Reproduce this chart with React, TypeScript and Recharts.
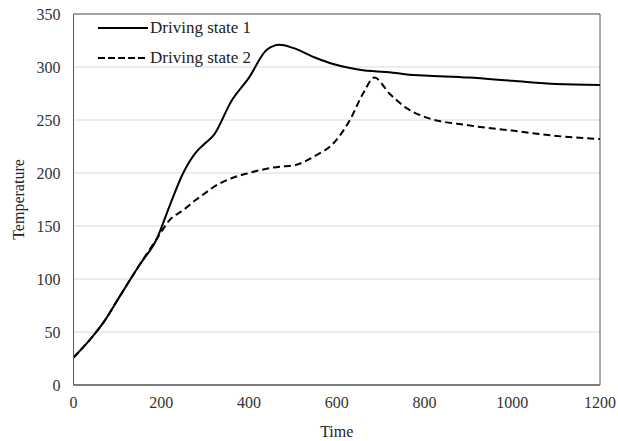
import {
  LineChart,
  Line,
  XAxis,
  YAxis,
  CartesianGrid,
  ReferenceArea,
} from "recharts";

const times = [0, 40, 70, 100, 150, 190, 220, 250, 280, 300, 320, 360, 400, 440, 470, 500, 550, 590, 630, 660, 686, 720, 760, 800, 900, 1000, 1100, 1200];
const state1 = [26, 44, 60, 80, 113, 138, 170, 200, 220, 228, 236, 268, 290, 316, 321, 318, 309, 303, 299, 297, 296, 295, 293, 292, 290, 287, 284, 283];
const state2 = [26, 44, 60, 80, 113, 138, 156, 165, 175, 181, 187, 195, 200, 204, 206, 207, 216, 227, 250, 275, 290, 275, 261, 253, 245, 240, 235, 232];
const xTicks = [0, 200, 400, 600, 800, 1000, 1200];
const yTicks = [0, 50, 100, 150, 200, 250, 300, 350];
const seriesNames = ["Driving state 1", "Driving state 2"];

const data = times.map((t, i) => ({ time: t, s1: state1[i], s2: state2[i] }));

const font = "'Liberation Serif', 'Times New Roman', serif";

// legend drawn as an overlay so the plot keeps its full height
function ChartLegend() {
  return (
    <div
      style={{
        position: "absolute",
        left: 96,
        top: 13,
        fontFamily: font,
        fontSize: 17,
        color: "#222",
      }}
    >
      {seriesNames.map((name, i) => (
        <div key={name} style={{ display: "flex", alignItems: "center", height: 30 }}>
          <svg width={54} height={10}>
            <line
              x1={2}
              x2={52}
              y1={5}
              y2={5}
              stroke="#000"
              strokeWidth={2}
              strokeDasharray={i === 1 ? "7 3" : undefined}
            />
          </svg>
          <span>{name}</span>
        </div>
      ))}
    </div>
  );
}

export default function App() {
  return (
    <div style={{ position: "absolute", left: 0, top: 0, background: "#fff" }}>
      <LineChart
        width={618}
        height={441}
        data={data}
        margin={{ top: 14, right: 18, left: 0, bottom: 0 }}
        style={{ fontFamily: font }}
      >
        <CartesianGrid vertical={false} stroke="#d9d9d9" />
        <XAxis
          dataKey="time"
          type="number"
          domain={[0, 1200]}
          ticks={xTicks}
          height={56}
          tickSize={0}
          tickMargin={12}
          axisLine={{ stroke: "#595959" }}
          tick={{ fill: "#333", fontSize: 16 }}
          label={{ value: "Time", position: "insideBottom", offset: 4, fill: "#222", fontSize: 16 }}
        />
        <YAxis
          type="number"
          domain={[0, 350]}
          ticks={yTicks}
          width={73.5}
          tickSize={0}
          tickMargin={13}
          axisLine={{ stroke: "#595959" }}
          tick={{ fill: "#333", fontSize: 16 }}
          label={{
            value: "Temperature",
            angle: -90,
            position: "insideLeft",
            offset: 18,
            fill: "#222",
            fontSize: 16,
            style: { textAnchor: "middle" },
          }}
        />
        <ReferenceArea x1={0} x2={1200} y1={0} y2={350} fill="none" stroke="#595959" strokeOpacity={1} fillOpacity={0} />
        <Line
          type="monotone"
          dataKey="s1"
          name={seriesNames[0]}
          stroke="#000"
          strokeWidth={2}
          dot={false}
          isAnimationActive={false}
        />
        <Line
          type="monotone"
          dataKey="s2"
          name={seriesNames[1]}
          stroke="#000"
          strokeWidth={2}
          strokeDasharray="7 4"
          dot={false}
          isAnimationActive={false}
        />
      </LineChart>
      <ChartLegend />
    </div>
  );
}
